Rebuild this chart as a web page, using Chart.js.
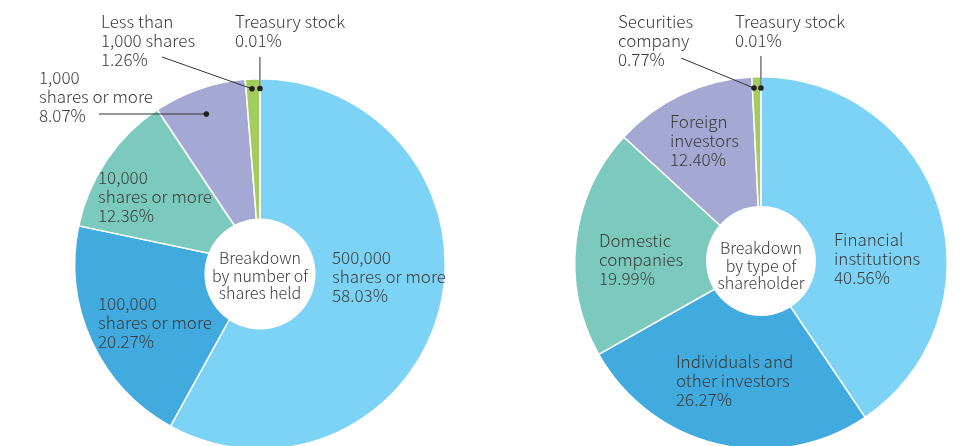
<!DOCTYPE html>
<html>
<head>
<meta charset="utf-8">
<script src="https://cdn.jsdelivr.net/npm/chart.js@4.4.1/dist/chart.umd.min.js"></script>
<style>
  html, body { margin: 0; padding: 0; background: #fff; overflow: hidden; }
  body { width: 967px; height: 446px; position: relative; }
  .pie { position: absolute; top: 0; height: 470px; }
  #holdingPie { left: 0; width: 484px; }
  #typePie { left: 484px; width: 483px; }
</style>
</head>
<body>
<div class="pie" id="holdingPie"><canvas id="holdingChart"></canvas></div>
<div class="pie" id="typePie"><canvas id="typeChart"></canvas></div>
<script>
// breakdown by number of shares held
const holdingCategories = [
    ['500,000', 'shares or more'],
    ['100,000', 'shares or more'],
    ['10,000', 'shares or more'],
    ['1,000', 'shares or more'],
    ['Less than', '1,000 shares'],
    ['Treasury stock']
];
const holdingShares = [58.03, 20.27, 12.36, 8.07, 1.26, 0.01];

// breakdown by type of shareholder
const typeCategories = [
    ['Financial', 'institutions'],
    ['Individuals and', 'other investors'],
    ['Domestic', 'companies'],
    ['Foreign', 'investors'],
    ['Securities', 'company'],
    ['Treasury stock']
];
const typeShares = [40.56, 26.27, 19.99, 12.40, 0.77, 0.01];

const sliceColors = ['#7dd3f5', '#41aadf', '#7ccabd', '#a5a8d3', '#a2cd5c', '#a2cd5c'];

const FONT = '"Noto Sans CJK JP", "Noto Sans", sans-serif';
const TEXT_COLOR = '#3a3a3a';
const LINE_H = 19;

function labelLines(cats, vals, i) {
    return cats[i].concat(vals[i].toFixed(2) + '%');
}

// draws the hole, the centre caption, slice labels and leader lines
const pieNotes = {
    id: 'pieNotes',
    afterDatasetsDraw(chart, args, opts) {
        const ctx = chart.ctx;
        const arcs = chart.getDatasetMeta(0).data;
        const cx = arcs[0].x, cy = arcs[0].y;
        const R = arcs[0].outerRadius;
        const cats = opts.categories, vals = chart.data.datasets[0].data;

        ctx.save();
        // white hole
        ctx.fillStyle = '#fff';
        ctx.beginPath();
        ctx.arc(cx, cy + opts.holeDy, R * opts.holeRatio, 0, Math.PI * 2);
        ctx.fill();

        ctx.fillStyle = TEXT_COLOR;
        ctx.textBaseline = 'middle';

        // centre caption
        ctx.font = '300 16px ' + FONT;
        ctx.textAlign = 'center';
        opts.center.lines.forEach((t, k) => {
            ctx.fillText(t, cx, cy + opts.center.dy + k * 17.5);
        });

        // slice labels
        ctx.font = '300 17px ' + FONT;
        ctx.textAlign = 'left';
        opts.labels.forEach(l => {
            labelLines(cats, vals, l.index).forEach((t, k) => {
                ctx.fillText(t, cx + l.dx, cy + l.dy + k * LINE_H);
            });
        });

        // leaders: line from text to a dot on the slice
        ctx.strokeStyle = '#333';
        ctx.lineWidth = 1;
        opts.leaders.forEach(ld => {
            const a = arcs[ld.index];
            const ang = a.startAngle + (a.endAngle - a.startAngle) * ld.t;
            const px = cx + Math.cos(ang) * R * ld.r;
            const py = cy + Math.sin(ang) * R * ld.r;
            const sx = ld.vertical ? px : cx + ld.from[0];
            const sy = cy + ld.from[1];
            ctx.beginPath();
            ctx.moveTo(sx, sy);
            ctx.lineTo(px, py);
            ctx.stroke();
            ctx.fillStyle = '#222';
            ctx.beginPath();
            ctx.arc(px, py, 2.8, 0, Math.PI * 2);
            ctx.fill();
        });
        ctx.restore();
    }
};

function makePie(canvasId, cats, vals, padding, notes) {
    return new Chart(document.getElementById(canvasId), {
        type: 'pie',
        data: {
            labels: cats.map(c => c.join(' ')),
            datasets: [{
                data: vals,
                backgroundColor: sliceColors,
                borderColor: '#fff',
                borderWidth: 1.5
            }]
        },
        options: {
            responsive: true,
            maintainAspectRatio: false,
            animation: false,
            layout: { padding: padding },
            plugins: {
                legend: { display: false },
                tooltip: { enabled: false },
                pieNotes: Object.assign({ categories: cats }, notes)
            }
        },
        plugins: [pieNotes]
    });
}

makePie('holdingChart', holdingCategories, holdingShares,
    { left: 74, top: 78, right: 38, bottom: 20 },
    {
        holeRatio: 0.3,
        holeDy: 10,
        center: { lines: ['Breakdown', 'by number of', 'shares held'], dy: -6 },
        labels: [
            { index: 0, dx: 72, dy: -6 },
            { index: 1, dx: -162, dy: 40 },
            { index: 2, dx: -162, dy: -86 },
            { index: 3, dx: -221, dy: -186 },
            { index: 4, dx: -159, dy: -242 },
            { index: 5, dx: -25, dy: -242 }
        ],
        leaders: [
            { index: 3, t: 0.48, r: 0.86, from: [-161, -150] },
            { index: 4, t: 0.43, r: 0.947, from: [-98, -207] },
            { index: 5, t: 0.5, r: 0.947, from: [0, -207], vertical: true }
        ]
    });

makePie('typeChart', typeCategories, typeShares,
    { left: 90, top: 76, right: 19, bottom: 20 },
    {
        holeRatio: 0.295,
        holeDy: -2,
        center: { lines: ['Breakdown', 'by type of', 'shareholder'], dy: -15 },
        labels: [
            { index: 0, dx: 73, dy: -23 },
            { index: 1, dx: -85, dy: 99 },
            { index: 2, dx: -162, dy: -22 },
            { index: 3, dx: -91, dy: -141 },
            { index: 4, dx: -143, dy: -241 },
            { index: 5, dx: -26, dy: -241 }
        ],
        leaders: [
            { index: 4, t: 0.18, r: 0.94, from: [-80, -205] },
            { index: 5, t: 0.5, r: 0.94, from: [0, -207], vertical: true }
        ]
    });
</script>
</body>
</html>
